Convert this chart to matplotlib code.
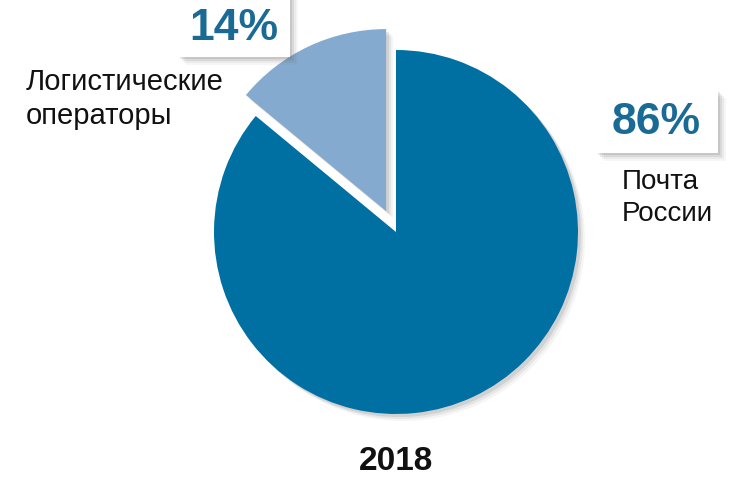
import matplotlib
matplotlib.use('Agg')
import matplotlib.pyplot as plt
from matplotlib.patches import Rectangle

plt.rcParams['font.family'] = ['Liberation Sans', 'DejaVu Sans']

labels = ['Логистические\nоператоры', 'Почта\nРоссии']
shares = [14, 86]
pct_labels = ['14%', '86%']
year = '2018'

W, H = 743, 480
fig = plt.figure(figsize=(W / 100, H / 100), dpi=100)
ax = fig.add_axes([0, 0, 1, 1])

cx, cy, r = 396, H - 232, 182
colors = ['#85aacf', '#0070a3']
# pie explode is in data units here (pixels)
explode = [0.127 * r, 0]

# soft shadow under the pie
for k, a in [(7, 0.08), (5, 0.12), (3, 0.2)]:
    ax.pie(shares, center=(cx + k, cy - k), radius=r, startangle=90,
           explode=explode, colors=['#808080', '#808080'],
           wedgeprops=dict(alpha=a, linewidth=0))
ax.pie(shares, center=(cx, cy), radius=r, startangle=90,
       explode=explode, colors=colors, wedgeprops=dict(linewidth=0))


def box(x0, y0, w, h):
    # white box with soft drop shadow (pixel coords, y from top)
    for k, a in [(8, 0.05), (6, 0.08), (4, 0.12), (2, 0.15)]:
        ax.add_patch(Rectangle((x0 + k, H - y0 - h - k), w, h,
                               facecolor='#606060', alpha=a, lw=0, zorder=5))
    ax.add_patch(Rectangle((x0, H - y0 - h), w, h, facecolor='white',
                           lw=0, zorder=6))


box(178, -10, 112, 67)
box(596, 90, 122, 63)

ax.text(234, H - 28, pct_labels[0], ha='center', va='center', fontsize=32,
        fontweight='bold', color='#1a6a96', zorder=7)
ax.text(656, H - 123, pct_labels[1], ha='center', va='center', fontsize=32,
        fontweight='bold', color='#1a6a96', zorder=7)

ax.text(26, H - 99, labels[0], ha='left', va='center', fontsize=21,
        color='#111111', linespacing=1.3)
ax.text(622, H - 198, labels[1], ha='left', va='center', fontsize=20,
        color='#111111', linespacing=1.3)
ax.text(396, H - 462, year, ha='center', va='center', fontsize=24,
        fontweight='bold', color='#111111')

ax.set_xlim(0, W)
ax.set_ylim(0, H)
ax.set_aspect('auto')
ax.axis('off')

fig.savefig('out.png', dpi=100)
